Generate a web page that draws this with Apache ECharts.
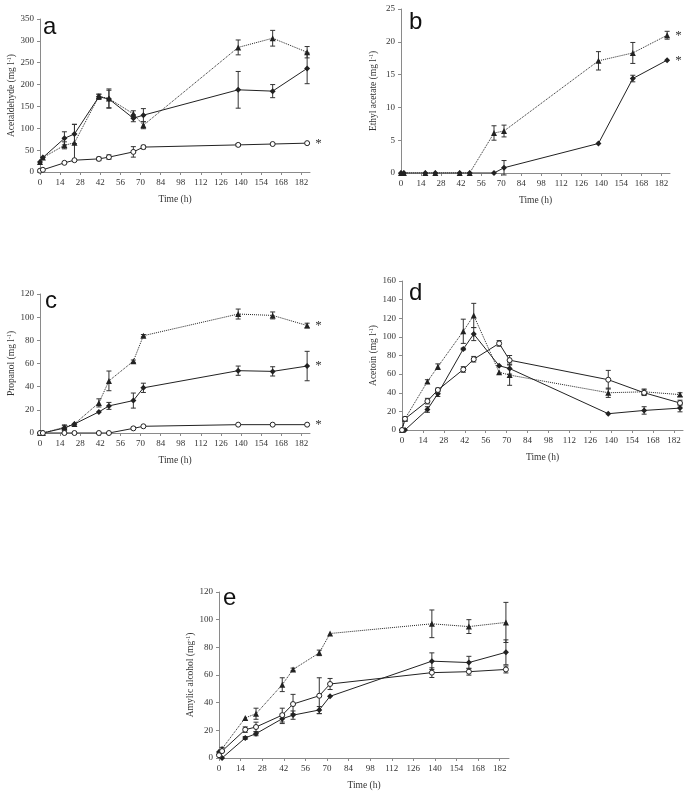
<!DOCTYPE html>
<html><head><meta charset="utf-8">
<script src="https://cdn.jsdelivr.net/npm/echarts@6/dist/echarts.min.js"></script>
<style>html,body{margin:0;padding:0;background:#fff}#c{width:685px;height:803px}</style>
</head><body><div id="c"></div>
<script>
// ---- data ----
const time = [0, 2, 17, 24, 41, 48, 65, 72, 138, 162, 186];
const timeTicks = [0, 14, 28, 42, 56, 70, 84, 98, 112, 126, 140, 154, 168, 182];

// panel a: acetaldehyde
const aFilled = [23, 33, 77, 87, 172, 167, 123, 130, 188, 185, 237];
const aFilledErr = [0, 0, 15, 22, 6, 20, 8, 15, 42, 15, 35];
const aTri = [23, 33, 61, 67, 173, 168, 133, 107, 285, 306, 274];
const aTriErr = [0, 0, 8, 42, 5, 22, 7, 8, 17, 18, 13];
const aOpen = [3, 5, 21, 27, 30, 34, 46, 57, 62, 64, 66];
const aOpenErr = [0, 0, 0, 0, 4, 5, 12, 4, 3, 0, 0];

// panel b: ethyl acetate
const bFilled = [0, 0, 0, 0, 0, 0, 0, 0.8, 4.5, 14.4, 17.2];
const bFilledErr = [0, 0, 0, 0, 0, 0, 0, 1.1, 0, 0.5, 0];
const bTri = [0, 0, 0, 0, 0, 0, 6.1, 6.4, 17.1, 18.3, 21.0];
const bTriErr = [0, 0, 0, 0, 0, 0, 1.1, 0.9, 1.4, 1.6, 0.6];

// panel c: propanol
const cFilled = [0, 0, 4.3, 7.8, 18.2, 23.4, 28, 39, 53.8, 53.2, 57.8];
const cFilledErr = [0, 0, 2, 0, 0, 3, 6.5, 4, 4, 4, 12.7];
const cTri = [0, 0, 5, 7.8, 26, 45, 62, 84, 102.7, 101.5, 92.8];
const cTriErr = [0, 0, 2, 0, 3.5, 8.5, 1, 1, 4.3, 3, 2];
const cOpen = [0, 0, 0, 0, 0, 0, 4, 5.8, 7.2, 7.2, 7.2];
const cOpenErr = [0, 0, 0, 0, 0, 0, 1, 0, 0, 0, 0];

// panel d: acetoin
const dFilled = [0, 0, 22, 39, 87, 103, 69, 66, 17.5, 21, 23.5];
const dFilledErr = [0, 0, 3, 3, 1, 7, 0, 6, 0, 4, 4];
const dTri = [0, 12, 52, 68, 106, 123, 62, 59, 40, 41, 38];
const dTriErr = [0, 0, 2, 3, 13, 13, 0, 11, 5, 3, 2];
const dOpen = [0, 12, 31, 43, 65, 76, 93, 75, 54, 40, 29];
const dOpenErr = [0, 2, 3, 2, 3, 3, 3, 5, 10, 3, 3];

// panel e: amylic alcohol
const eFilled = [4.3, 0, 14.5, 17.6, 28.4, 31, 34.7, 44.6, 70, 69, 76.4];
const eFilledErr = [0, 0, 1, 1.5, 3.5, 3, 2.5, 0, 6, 4.5, 9];
const eTri = [4.3, 6.7, 29, 32, 53, 64, 76, 90, 97, 95, 98];
const eTriErr = [0, 1, 0, 4, 5, 1, 2, 0, 10, 5, 14.5];
const eOpen = [2, 5, 20.5, 22.4, 31, 39, 45, 53.5, 61.7, 62.4, 64];
const eOpenErr = [0, 0, 2, 3.5, 5, 7, 13, 4, 3.5, 2.5, 2.5];

// ---- chart ----
const serif = 'Liberation Serif';
const ink = '#222';
const grids = [
  {left: 40, top: 19, width: 270, height: 153},
  {left: 401, top: 9, width: 269, height: 164},
  {left: 40, top: 294, width: 270, height: 139},
  {left: 402, top: 281, width: 281, height: 149},
  {left: 219, top: 592, width: 290, height: 166}
];
const yCfg = [
  {max: 350, interval: 50, name: 'Acetaldehyde (mg l{s|-1})'},
  {max: 25, interval: 5, name: 'Ethyl acetate (mg l{s|-1})'},
  {max: 120, interval: 20, name: 'Propanol (mg l{s|-1})'},
  {max: 160, interval: 20, name: 'Acetoin (mg l{s|-1})'},
  {max: 120, interval: 20, name: 'Amylic alcohol (mg{s|-1})'}
];
const axisLineStyle = {color: '#8a8a8a', width: 1};

const xAxes = grids.map((g, i) => ({
  type: 'value', gridIndex: i, min: 0, max: 188,
  axisLine: {lineStyle: axisLineStyle},
  axisTick: {show: true, length: 3, customValues: timeTicks, lineStyle: axisLineStyle},
  axisLabel: {customValues: timeTicks, fontFamily: serif, fontSize: 9, color: '#333', margin: 6},
  splitLine: {show: false},
  name: 'Time (h)', nameLocation: 'middle', nameGap: 22,
  nameTextStyle: {fontFamily: serif, fontSize: 9.5, color: '#333'}
}));
const yAxes = yCfg.map((c, i) => ({
  type: 'value', gridIndex: i, min: 0, max: c.max, interval: c.interval,
  axisLine: {show: true, lineStyle: axisLineStyle},
  axisTick: {show: true, length: 3, lineStyle: axisLineStyle},
  axisLabel: {fontFamily: serif, fontSize: 9, color: '#333', margin: 6},
  splitLine: {show: false},
  name: c.name, nameLocation: 'middle', nameGap: 22, nameRotate: 90,
  nameTextStyle: {fontFamily: serif, fontSize: 9.5, color: '#333',
    rich: {s: {fontFamily: serif, fontSize: 6, color: '#333', verticalAlign: 'top', padding: [0, 0, 5, 0]}}}
}));

function errSeries(gi, vals, errs) {
  const data = [];
  time.forEach((t, i) => { if (errs[i] > 0) data.push([t, vals[i] - errs[i], vals[i] + errs[i]]); });
  return {
    type: 'custom', xAxisIndex: gi, yAxisIndex: gi, data, z: 1, silent: true,
    encode: {x: 0, y: [1, 2]},
    renderItem(params, api) {
      const x = api.value(0);
      const lo = api.coord([x, api.value(1)]);
      const hi = api.coord([x, api.value(2)]);
      const w = 2.5, st = {stroke: '#333', lineWidth: 1};
      return {type: 'group', children: [
        {type: 'line', shape: {x1: lo[0], y1: lo[1], x2: hi[0], y2: hi[1]}, style: st},
        {type: 'line', shape: {x1: lo[0] - w, y1: lo[1], x2: lo[0] + w, y2: lo[1]}, style: st},
        {type: 'line', shape: {x1: hi[0] - w, y1: hi[1], x2: hi[0] + w, y2: hi[1]}, style: st}
      ]};
    }
  };
}
function lineSeries(gi, vals, kind, star) {
  const data = time.map((t, i) => {
    const d = {value: [t, vals[i]]};
    if (star && i === time.length - 1) {
      d.label = {show: true, formatter: '*', position: 'right', distance: 5,
        fontFamily: serif, fontSize: 13, color: '#333'};
    }
    return d;
  });
  const s = {type: 'line', xAxisIndex: gi, yAxisIndex: gi, data, z: 3, silent: true,
    showAllSymbol: true, animation: false, label: {show: false}};
  if (kind === 'filled') {
    Object.assign(s, {symbol: 'diamond', symbolSize: 6,
      itemStyle: {color: ink, borderColor: ink, borderWidth: 0},
      lineStyle: {color: ink, width: 1, type: 'solid'}});
  } else if (kind === 'tri') {
    Object.assign(s, {symbol: 'triangle', symbolSize: 6,
      itemStyle: {color: ink, borderColor: ink, borderWidth: 0},
      lineStyle: {color: ink, width: 1, type: 'dotted'}});
  } else {
    Object.assign(s, {symbol: 'circle', symbolSize: 5,
      itemStyle: {color: '#fff', borderColor: ink, borderWidth: 1},
      lineStyle: {color: ink, width: 1, type: 'solid'}});
  }
  return s;
}

const series = [
  errSeries(0, aFilled, aFilledErr), errSeries(0, aTri, aTriErr), errSeries(0, aOpen, aOpenErr),
  lineSeries(0, aFilled, 'filled'), lineSeries(0, aTri, 'tri'), lineSeries(0, aOpen, 'open', true),
  errSeries(1, bFilled, bFilledErr), errSeries(1, bTri, bTriErr),
  lineSeries(1, bFilled, 'filled', true), lineSeries(1, bTri, 'tri', true),
  errSeries(2, cFilled, cFilledErr), errSeries(2, cTri, cTriErr), errSeries(2, cOpen, cOpenErr),
  lineSeries(2, cFilled, 'filled', true), lineSeries(2, cTri, 'tri', true), lineSeries(2, cOpen, 'open', true),
  errSeries(3, dFilled, dFilledErr), errSeries(3, dTri, dTriErr), errSeries(3, dOpen, dOpenErr),
  lineSeries(3, dFilled, 'filled'), lineSeries(3, dTri, 'tri'), lineSeries(3, dOpen, 'open'),
  errSeries(4, eFilled, eFilledErr), errSeries(4, eTri, eTriErr), errSeries(4, eOpen, eOpenErr),
  lineSeries(4, eFilled, 'filled'), lineSeries(4, eTri, 'tri'), lineSeries(4, eOpen, 'open')
];

const letters = [['a', 43, 42], ['b', 409, 37], ['c', 45, 316], ['d', 409, 308], ['e', 223, 613]];
const graphic = letters.map(l => ({type: 'text', left: l[1], top: l[2] - 27,
  style: {text: l[0], font: '24px "Liberation Sans"', fill: '#111'}}));

const chart = echarts.init(document.getElementById('c'), null, {renderer: 'canvas'});
chart.setOption({
  animation: false, backgroundColor: '#fff',
  grid: grids, xAxis: xAxes, yAxis: yAxes, series, graphic
});
</script>
</body></html>
